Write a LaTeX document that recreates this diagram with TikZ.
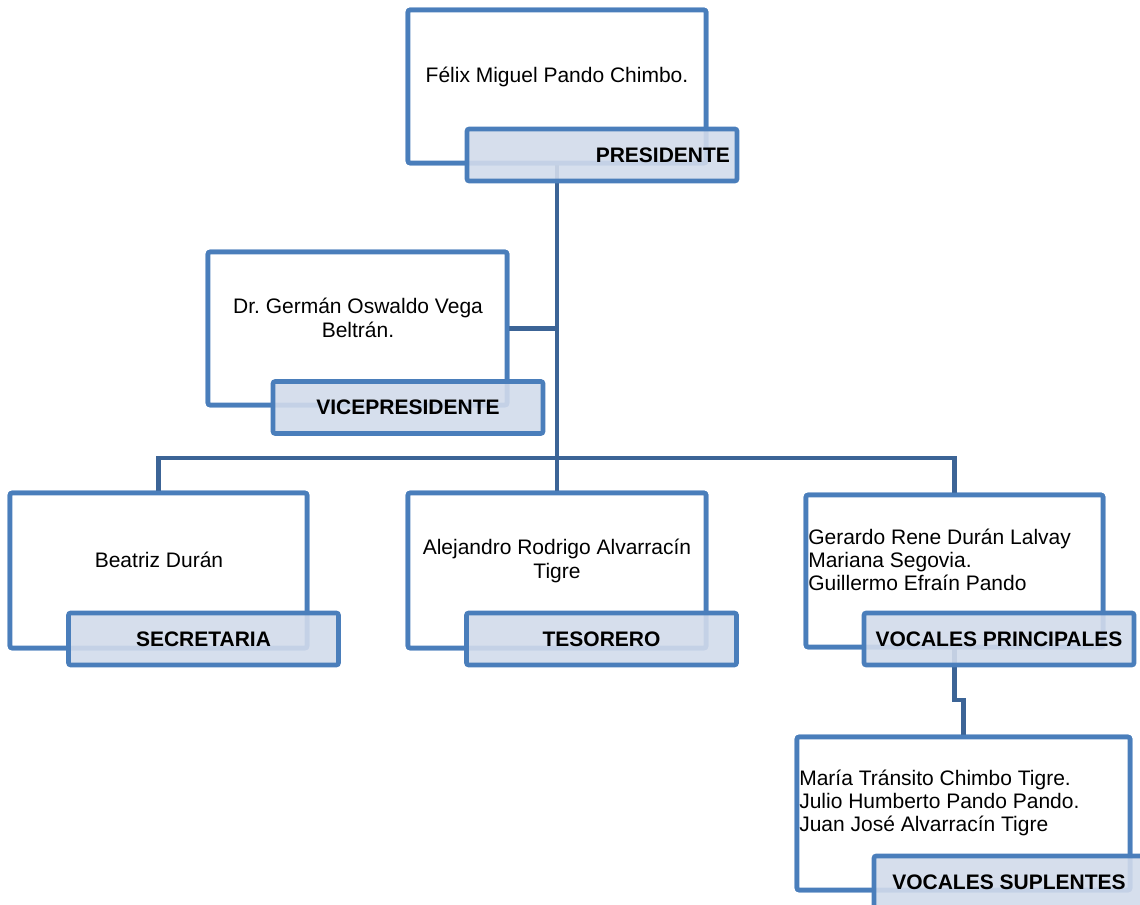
\documentclass[tikz,border=0pt]{standalone}
\usepackage{fontspec}
\setmainfont{Liberation Sans}
\frenchspacing
\definecolor{boxborder}{RGB}{74,126,187}
\definecolor{linkcol}{RGB}{60,100,150}
\definecolor{labfill}{RGB}{210,219,235}
\begin{document}
\begin{tikzpicture}[x=0.75pt,y=-0.75pt,
  mainbox/.style 2 args={draw=boxborder, line width=3.4pt, fill=white, rounded corners=1.5pt,
     minimum width=#1*0.75pt, minimum height=#2*0.75pt, inner sep=0pt},
  labbox/.style={draw=boxborder, line width=3.4pt, fill=labfill, fill opacity=0.9, text opacity=1,
     rounded corners=1.5pt, minimum width=270*0.75pt, minimum height=52*0.75pt, inner sep=0pt,
     font=\fontsize{15.75}{17}\selectfont\bfseries},
  txt/.style={inner sep=0pt, font=\fontsize{15.75}{17.5}\selectfont},
  link/.style={draw=linkcol, line width=3.4pt}]
\useasboundingbox (0,0) rectangle (1140,905);
\clip (0,0) rectangle (1140,905);

% main boxes
\node[mainbox={298}{153}] (pres) at (557,86.5) {};
\node[mainbox={299}{153}] (vice) at (357.5,328.5) {};
\node[mainbox={297}{155}] (sec) at (158.5,570.5) {};
\node[mainbox={298}{155}] (tes) at (557,570.5) {};
\node[mainbox={297}{152}] (vp) at (954.5,571) {};
\node[mainbox={333}{153}] (vs) at (963.5,813.5) {};

% connectors
\coordinate (bus) at (557,458);
\coordinate (elb) at (954.5,700);
\draw[link] (pres.south) -- (bus);
\draw[link] (vice.east) -- (vice.east -| bus);
\draw[link] (sec.north) |- (bus) -| (vp.north);
\draw[link] (tes.north) -- (bus);
\draw[link] (vp.south) -- (elb) -| (vs.north);

% redraw boxes above connectors
\node[mainbox={298}{153}] at (pres) {};
\node[mainbox={299}{153}] at (vice) {};
\node[mainbox={297}{155}] at (sec) {};
\node[mainbox={298}{155}] at (tes) {};
\node[mainbox={297}{152}] at (vp) {};
\node[mainbox={333}{153}] at (vs) {};

% texts
\node[txt] (presT) at (557,77) {Félix Miguel Pando Chimbo.};
\node[txt, align=center] (viceT) at (358,318) {Dr. Germán Oswaldo Vega\\Beltrán.};
\node[txt] (secT) at (159,560) {Beatriz Durán};
\node[txt, align=center] (tesT) at (557,561) {Alejandro Rodrigo Alvarracín\\Tigre};
\node[txt, align=left, anchor=west] (vpT) at (808,560) {Gerardo Rene Durán Lalvay\\Mariana Segovia.\\Guillermo Efraín Pando};
\node[txt, align=left, anchor=west] (vsT) at (799,803) {María Tránsito Chimbo Tigre.\\Julio Humberto Pando Pando.\\Juan José Alvarracín Tigre};

% labels
\node[labbox, text width=256*0.75pt, align=right] (presL) at (602,155) {PRESIDENTE};
\node[labbox] (viceL) at (408,407.5) {VICEPRESIDENTE};
\node[labbox] (secL) at (203.5,639) {SECRETARIA};
\node[labbox] (tesL) at (601.5,639) {TESORERO};
\node[labbox] (vpL) at (999,639) {VOCALES PRINCIPALES};
\node[labbox] (vsL) at (1009,882) {VOCALES SUPLENTES};
\end{tikzpicture}
\end{document}
